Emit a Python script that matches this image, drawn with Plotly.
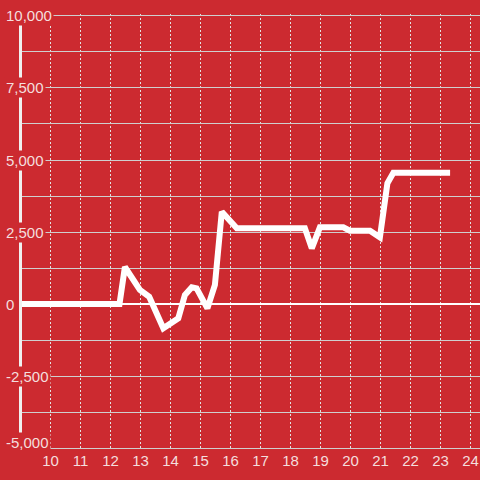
import plotly.graph_objects as go

# data
x_vals = [9.0, 12.3, 12.48, 12.98, 13.29, 13.76, 14.26, 14.48, 14.71, 14.87, 15.23, 15.48,
          15.71, 16.21, 18.48, 18.71, 18.98, 19.76, 19.98, 20.65, 20.98, 21.23, 21.43, 23.32]
y_vals = [0, 0, 1285, 486, 253, -844, -497, 312, 580, 545, -150, 660,
          3205, 2628, 2628, 1934, 2663, 2663, 2545, 2545, 2316, 4190, 4560, 4560]
y_ticks = [-5000, -2500, 0, 2500, 5000, 7500, 10000]
y_labels = ["-5,000", "-2,500", "0", "2,500", "5,000", "7,500", "10,000"]

RED = "#cc2a30"
TXT = "#f4dede"
GRID = "#cfcfcf"
FONT = "Liberation Sans, Arial, sans-serif"

W, H = 480, 480
L, R, T, B = 22, 0, 14, 30
pw = W - L - R

fig = go.Figure()
fig.add_trace(go.Scatter(x=x_vals, y=y_vals, mode="lines",
                         line=dict(color="white", width=6), hoverinfo="skip"))

shapes = []
# y axis line
shapes.append(dict(type="line", xref="paper", yref="y",
                   x0=(20.5 - L) / pw, x1=(20.5 - L) / pw, y0=-5000, y1=10000,
                   line=dict(color="#f0f0f0", width=3), layer="below"))
# major gridline extensions behind labels
for v in y_ticks:
    if v == 0:
        continue
    shapes.append(dict(type="line", xref="paper", yref="y",
                       x0=(5 - L) / pw, x1=0, y0=v, y1=v,
                       line=dict(color=GRID, width=1), layer="below"))

annotations = []
for v, lab in zip(y_ticks, y_labels):
    annotations.append(dict(xref="paper", yref="y", x=(4 - L) / pw, y=v,
                            xanchor="left", yanchor="middle", text=lab, showarrow=False,
                            font=dict(family=FONT, size=15, color=TXT),
                            bgcolor=RED, borderpad=1,
                            yshift=6 if v == -5000 else 0))

fig.update_layout(
    width=W, height=H,
    margin=dict(l=L, r=R, t=T, b=B, pad=0),
    paper_bgcolor=RED, plot_bgcolor=RED,
    showlegend=False,
    shapes=shapes, annotations=annotations,
    xaxis=dict(range=[9.05, 24.317], dtick=1, tick0=10, showgrid=True,
               gridcolor="#e2e2e2", griddash="2px,2px", gridwidth=1,
               zeroline=False, showline=False, ticks="",
               tickfont=dict(family=FONT, size=15, color=TXT)),
    yaxis=dict(range=[-5069, 10069], dtick=1250, tick0=0, showgrid=True,
               gridcolor=GRID, gridwidth=1, showticklabels=False, ticks="",
               zeroline=True, zerolinecolor="white", zerolinewidth=2, showline=False),
)

fig.write_html("out.html", config={"displayModeBar": False},
               post_script="document.body.style.margin='0px';document.body.style.padding='0px';")
